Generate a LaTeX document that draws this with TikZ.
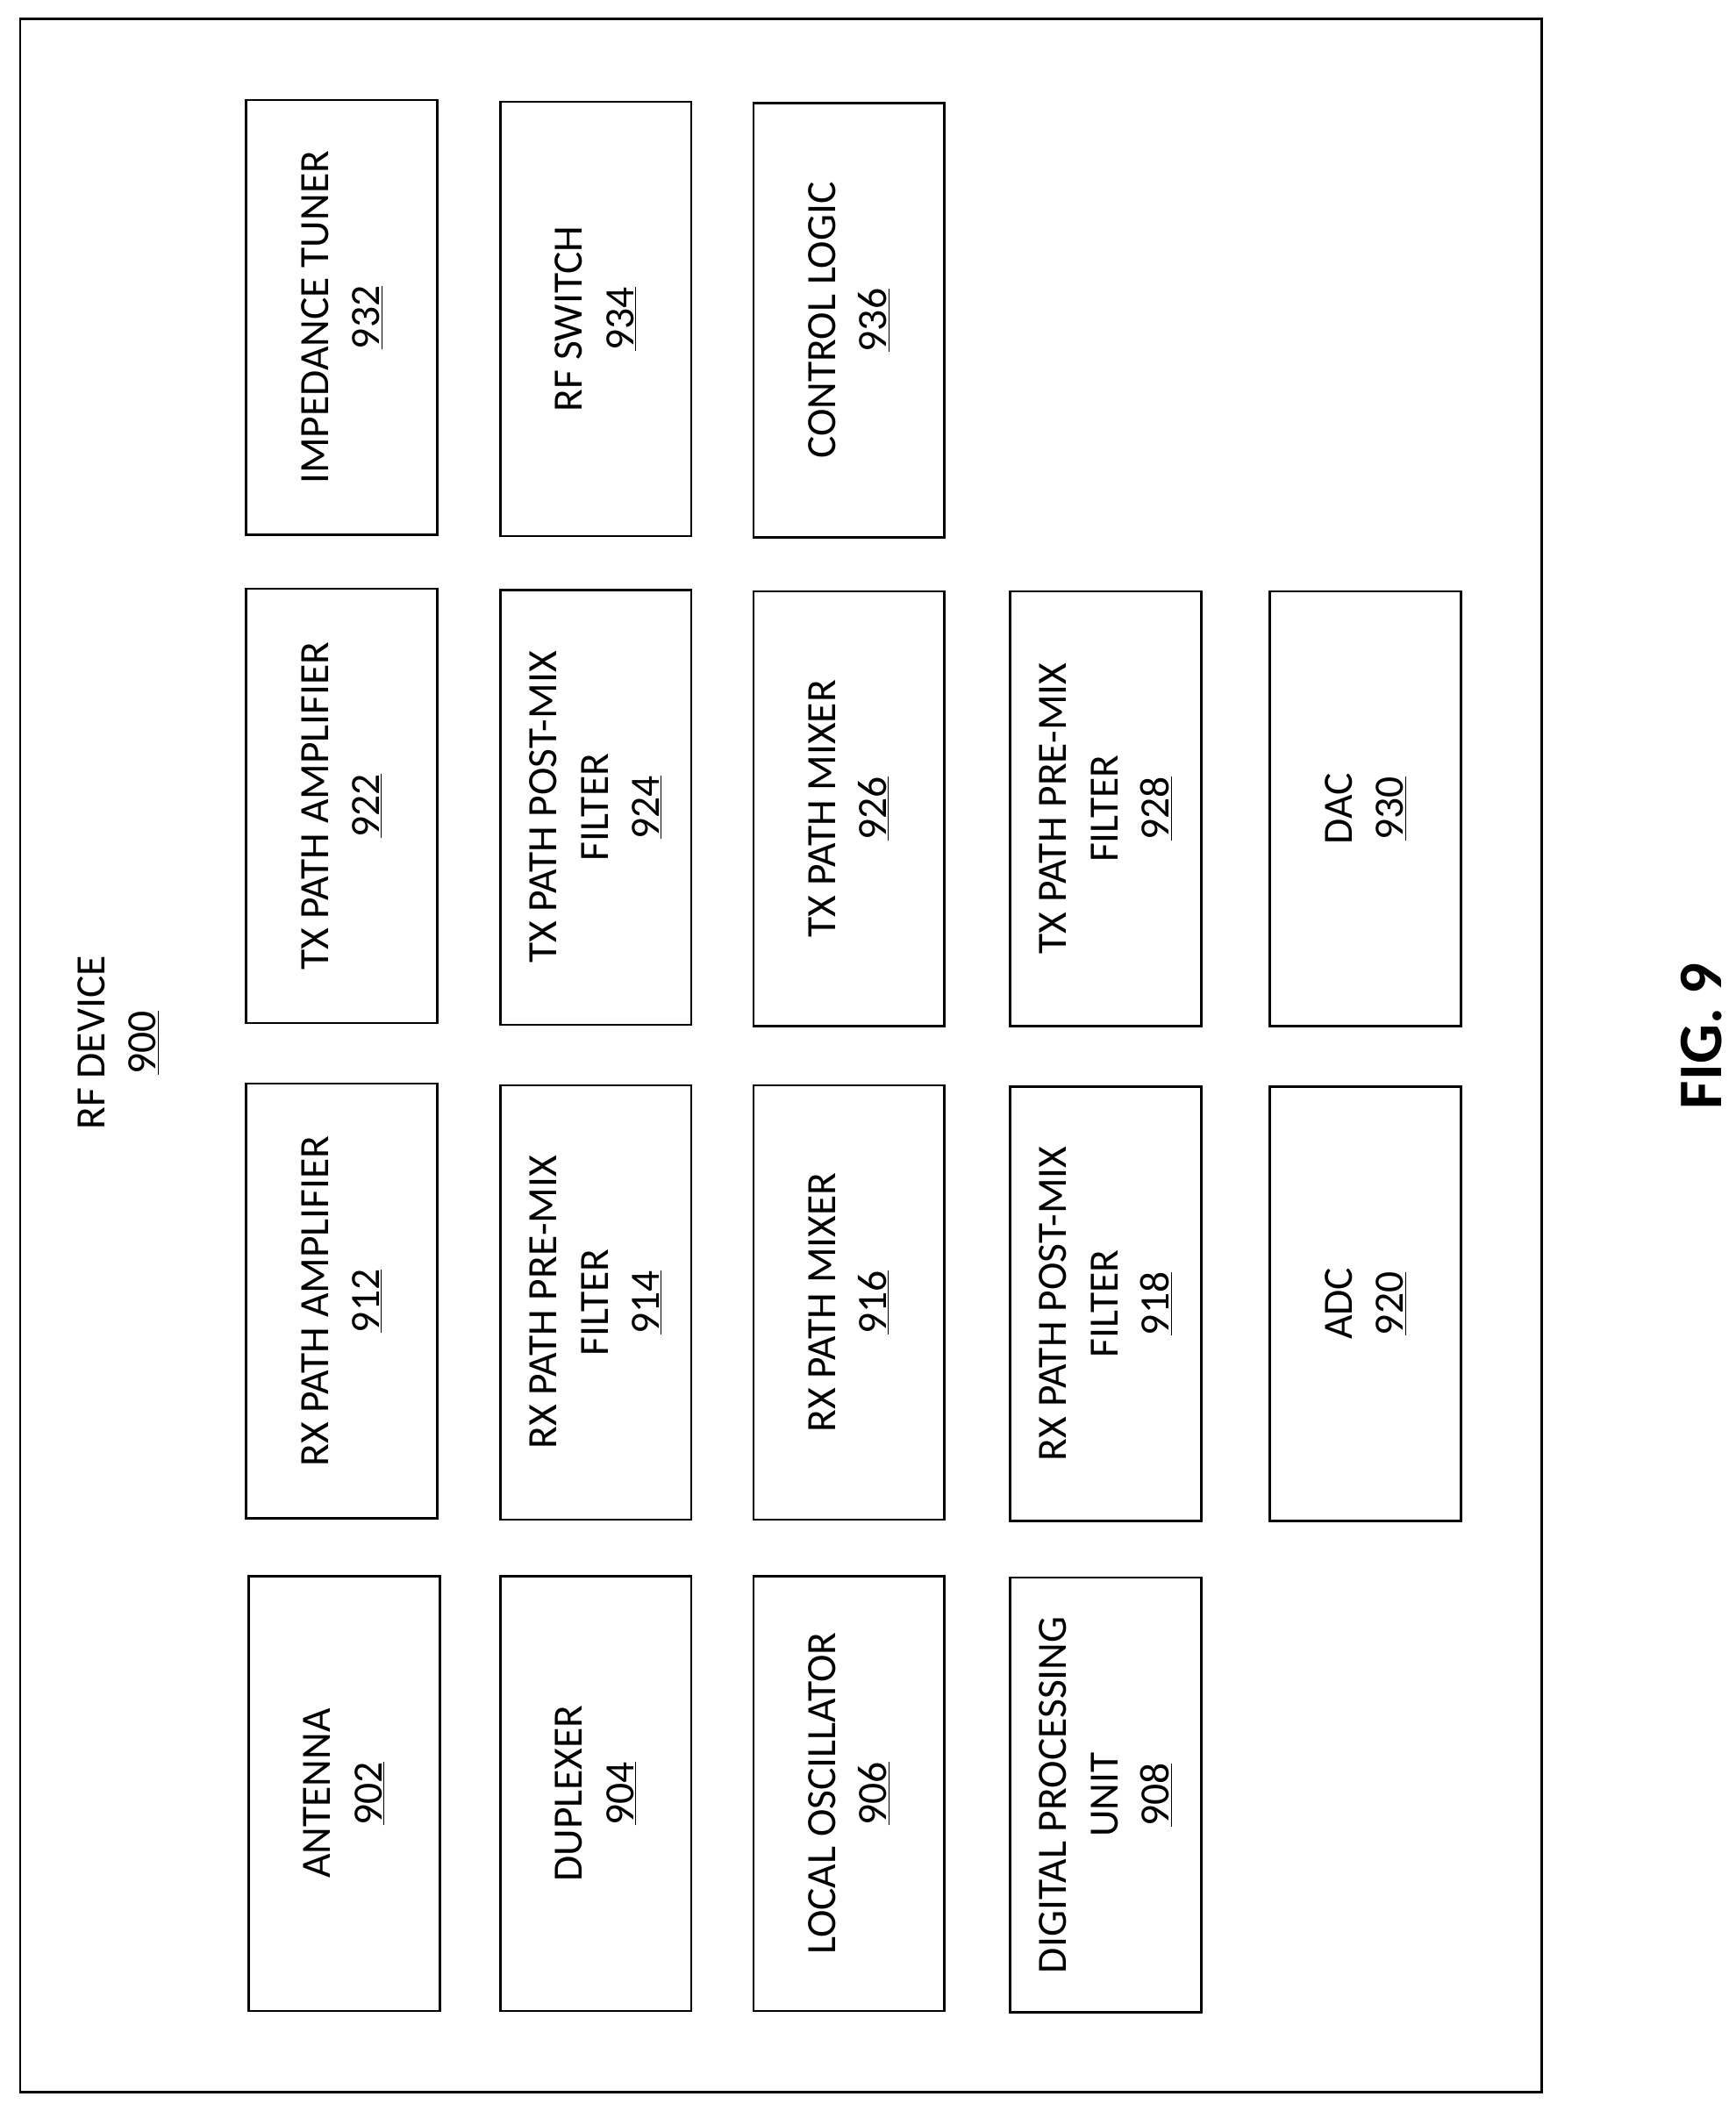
\documentclass[tikz,border=0pt]{standalone}
\usepackage{fontspec}
\setmainfont{Carlito}
\tikzset{
	blk/.style={draw, line width=1.6pt, rotate=90, minimum width=323pt, minimum height=142pt,
		align=center, inner sep=2pt, font=\fontsize{31}{38}\selectfont}
}
\begin{document}
\begin{tikzpicture}[x=1pt,y=-1pt]
		\useasboundingbox (0,0) rectangle (1290,1569);
		\draw [line width=1.6pt] (15,14) rectangle (1146,1555);
		\node [rotate=90, align=center, font=\fontsize{31}{38}\selectfont] (dev) at (88,775) {RF DEVICE\\\underline{900}};
		% top row
		\node [blk] (imp) at (254,236) {IMPEDANCE TUNER\\\underline{932}};
		\node [blk] (sw) at (443,237) {RF SWITCH\\\underline{934}};
		\node [blk] (ctl) at (631,238) {CONTROL LOGIC\\\underline{936}};
		% tx row
		\node [blk] (txa) at (254,599) {TX PATH AMPLIFIER\\\underline{922}};
		\node [blk] (txpost) at (443,600) {TX PATH POST-MIX\\FILTER\\\underline{924}};
		\node [blk] (txmix) at (631,601) {TX PATH MIXER\\\underline{926}};
		\node [blk] (txpre) at (822,601) {TX PATH PRE-MIX\\FILTER\\\underline{928}};
		\node [blk] (dac) at (1015,601) {DAC\\\underline{930}};
		% rx row
		\node [blk] (rxa) at (254,967) {RX PATH AMPLIFIER\\\underline{912}};
		\node [blk] (rxpre) at (443,968) {RX PATH PRE-MIX\\FILTER\\\underline{914}};
		\node [blk] (rxmix) at (631,968) {RX PATH MIXER\\\underline{916}};
		\node [blk] (rxpost) at (822,969) {RX PATH POST-MIX\\FILTER\\\underline{918}};
		\node [blk] (adc) at (1015,969) {ADC\\\underline{920}};
		% bottom row
		\node [blk] (ant) at (256,1333) {ANTENNA\\\underline{902}};
		\node [blk] (dup) at (443,1333) {DUPLEXER\\\underline{904}};
		\node [blk] (lo) at (631,1333) {LOCAL OSCILLATOR\\\underline{906}};
		\node [blk] (dpu) at (822,1334) {DIGITAL PROCESSING\\UNIT\\\underline{908}};
		\node [rotate=90, font=\fontsize{46}{50}\selectfont\bfseries] (fig) at (1265,770) {FIG. 9};
	\end{tikzpicture}
\end{document}
